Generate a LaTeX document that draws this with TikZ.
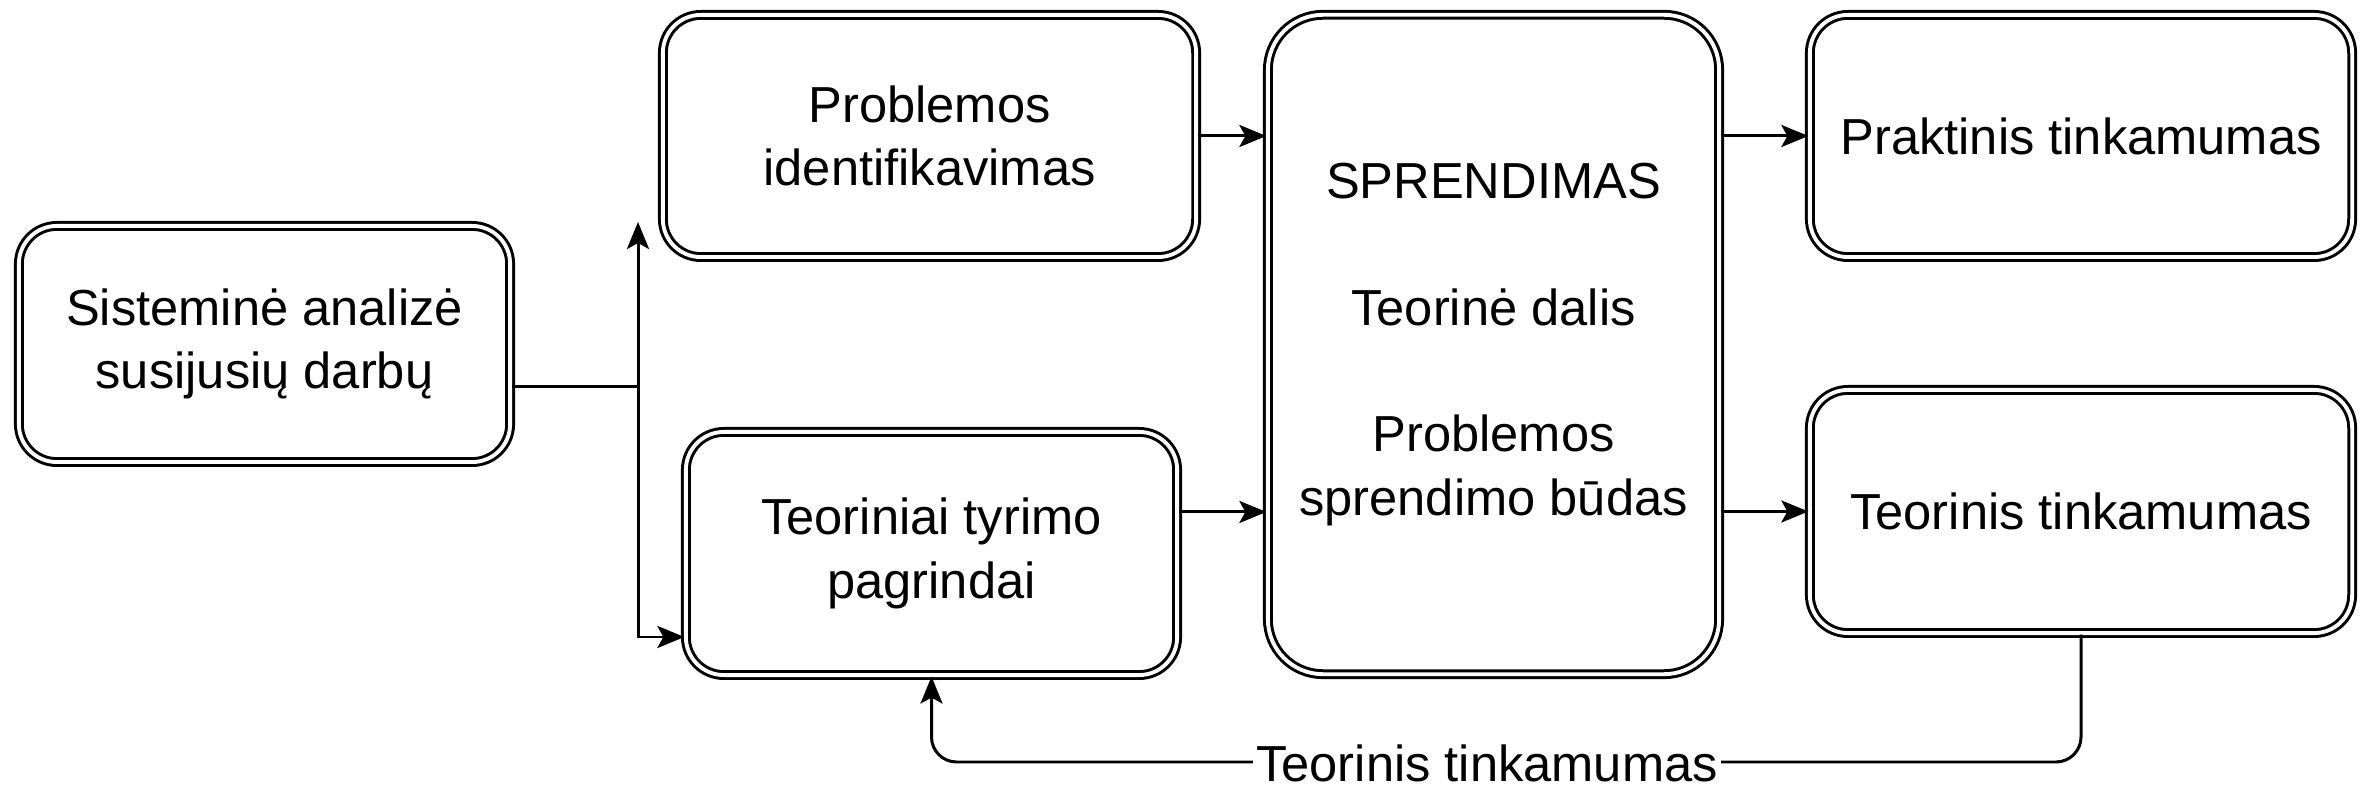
\documentclass[tikz,border=0pt]{standalone}
\usepackage{fontspec}
\setmainfont{Liberation Sans}
\usetikzlibrary{arrows.meta}
\begin{document}
\begin{tikzpicture}[x=0.01cm,y=-0.01cm,
  txt/.style={font=\fontsize{14.4}{18}\selectfont},
  box/.style={txt, draw, double, line width=0.85pt, double distance=1.1pt,
    rounded corners=0.38cm, align=center, inner sep=0pt},
  conn/.style={line width=0.85pt},
  arr/.style={conn, -{Stealth[length=0.27cm,width=0.22cm,inset=0.06cm]}}]
\useasboundingbox (0,0) rectangle (2361,789);

\node[box, minimum width=4.91cm, minimum height=2.36cm] (A) at (264.5,344) {Sisteminė analizė\\susijusių darbų};
\node[box, minimum width=5.33cm, minimum height=2.42cm] (B) at (929.5,136) {Problemos\\identifikavimas};
\node[box, minimum width=4.91cm, minimum height=2.43cm] (C) at (931.5,553.5) {Teoriniai tyrimo\\pagrindai};
\node[box, rounded corners=0.55cm, minimum width=4.51cm, minimum height=6.59cm] (D) at (1493.5,344.5)
  {SPRENDIMAS\\[18pt]Teorinė dalis\\[18pt]Problemos\\sprendimo būdas};
\node[box, minimum width=5.42cm, minimum height=2.42cm] (E) at (2081,136) {Praktinis tinkamumas};
\node[box, minimum width=5.42cm, minimum height=2.43cm] (F) at (2081,511.5) {Teorinis tinkamumas};

% left split
\coordinate (j) at (638,387);
\coordinate (up) at (638,222);
\coordinate (jd) at (638,637);
\draw[conn] (j -| A.east) -- (j);
\draw[arr] (j) -- (up);
\draw[arr] (j) -- (jd) -- (jd -| C.west);

% into the solution box
\draw[arr] (B.east) -- (B.east -| D.west);
\draw[arr] ([yshift=0.415cm]C.east) -- ([yshift=0.415cm]C.east -| D.west);

% out of the solution box
\draw[arr] (E.west -| D.east) -- (E.west);
\draw[arr] (F.west -| D.east) -- (F.west);

% feedback
\coordinate (fb) at (1487,762);
\draw[arr, rounded corners=0.25cm] (F.south) |- (fb) -| (C.south);
\node[txt, fill=white, inner sep=1pt] (lbl) at (1487,763) {Teorinis tinkamumas};
\end{tikzpicture}
\end{document}
